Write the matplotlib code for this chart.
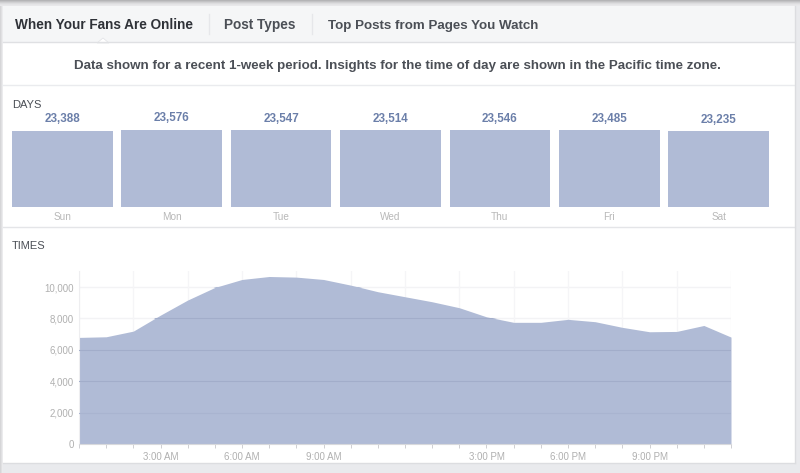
import matplotlib
matplotlib.use("Agg")
import matplotlib.pyplot as plt
from matplotlib.patches import Rectangle, Polygon

plt.rcParams['font.family'] = ['Liberation Sans', 'DejaVu Sans']

days = ["Sun", "Mon", "Tue", "Wed", "Thu", "Fri", "Sat"]
day_values = [23388, 23576, 23547, 23514, 23546, 23485, 23235]
hours = list(range(25))
fans = [6790, 6830, 7190, 8210, 9170, 9970, 10480, 10670, 10630, 10480, 10120, 9700,
        9380, 9060, 8680, 8100, 7750, 7750, 7940, 7790, 7430, 7150, 7170, 7550, 6810]
y_ticks = [0, 2000, 4000, 6000, 8000, 10000]
x_label_hours = [3, 6, 9, 15, 18, 21]
x_labels = ["3:00 AM", "6:00 AM", "9:00 AM", "3:00 PM", "6:00 PM", "9:00 PM"]
tabs = ["When Your Fans Are Online", "Post Types", "Top Posts from Pages You Watch"]
notice = "Data shown for a recent 1-week period. Insights for the time of day are shown in the Pacific time zone."

W, H = 800, 473
BAR = "#b0bbd6"
fig = plt.figure(figsize=(W / 100, H / 100), dpi=100, facecolor="#e9eaed")


def axes_px(x0, y0, x1, y1):
    return fig.add_axes([x0 / W, 1 - y1 / H, (x1 - x0) / W, (y1 - y0) / H])


# page overlay in pixel coordinates
bg = fig.add_axes([0, 0, 1, 1], zorder=0)
bg.set_xlim(0, W)
bg.set_ylim(H, 0)
bg.axis("off")
for i, c in enumerate(["#b4b4b6", "#c2c2c4", "#d0d0d2", "#dcdcde", "#e4e4e6", "#e8e8ea"]):
    bg.add_patch(Rectangle((0, i), W, 1, fc=c, ec="none"))
for i, c in enumerate(["#d6d6d8", "#e0e0e2", "#ebebed"]):
    bg.add_patch(Rectangle((i, 6), 1, H, fc=c, ec="none"))
bg.add_patch(Rectangle((3, 6), 792, 457, fc="white", ec="none"))
bg.add_patch(Rectangle((3, 6), 792, 36, fc="#f5f6f7", ec="none"))
bg.plot([3, 795], [42.5, 42.5], color="#dfe0e3", lw=1)
bg.plot([3, 795], [85, 85], color="#eaebee", lw=1)
bg.plot([3, 795], [226.5, 226.5], color="#e4e5e8", lw=1)
bg.plot([795, 795], [6, 463], color="#dcdde0", lw=1)
bg.plot([3, 795], [463, 463], color="#dcdde0", lw=1)
bg.add_patch(Polygon([[97, 43], [103, 38], [109, 43]], fc="white", ec="#e4e5e8", lw=0.6))
for x in [208.5, 311.5]:
    bg.plot([x, x], [14, 34], color="#e6e7ea", lw=1)

DARK = "#4b4f56"
bg.text(15, 29, tabs[0], fontsize=9.8, fontweight="bold", color="#2f3238", va="baseline")
bg.text(224, 29, tabs[1], fontsize=9.8, fontweight="bold", color=DARK, va="baseline")
bg.text(328, 29, tabs[2], fontsize=9.67, fontweight="bold", color=DARK, va="baseline")
bg.text(397, 69, notice, fontsize=9.68, fontweight="bold", color=DARK, va="baseline", ha="center")
bg.text(12, 108, "DAYS", fontsize=8, color=DARK, va="baseline")
bg.text(12, 249, "TIMES", fontsize=8, color=DARK, va="baseline")

# days bars
ax1 = axes_px(12, 100, 769, 207)
ax1.set_zorder(1)
ax1.patch.set_alpha(0)
ax1.set_xlim(-0.4605, 6.4605)
ax1.set_ylim(0, 23576 * 107 / 77)
ax1.bar(range(7), day_values, width=0.92, color=BAR)
for i, v in enumerate(day_values):
    ax1.annotate(f"{v:,}", (i, v), xytext=(0, 4), textcoords="offset points",
                 ha="center", va="bottom", fontsize=8.4, color="#6b7fa9", fontweight="bold",
                 annotation_clip=False)
    ax1.annotate(days[i], (i, 0), xytext=(0, -7.5), textcoords="offset points",
                 ha="center", va="center", fontsize=7.2, color="#b8b8b8", annotation_clip=False)
ax1.axis("off")

# times area
ax2 = axes_px(79, 271, 731, 444)
ax2.set_zorder(1)
ax2.patch.set_alpha(0)
ax2.set_xlim(0, 24)
ax2.set_ylim(0, 11020)
poly = ax2.fill_between(hours, fans, 0, color=BAR, lw=0, zorder=2)
for s in ax2.spines.values():
    s.set_visible(False)
ax2.spines["left"].set_visible(True)
ax2.spines["left"].set_color("#eeeef0")
ax2.spines["bottom"].set_visible(True)
ax2.spines["bottom"].set_color("#d8d9dc")
ax2.set_yticks(y_ticks)
ax2.set_yticklabels([f"{v:,}" for v in y_ticks], fontsize=7, color="#b0b0b0")
ax2.set_xticks(x_label_hours)
ax2.set_xticklabels(x_labels, fontsize=7, color="#b0b0b0")
ax2.set_xticks(hours, minor=True)
ax2.tick_params(axis="x", which="both", length=3, width=0.7, color="#cfcfd2", pad=2.5)
ax2.tick_params(axis="y", length=0, pad=3.5)
ax2.set_axisbelow(True)
over_colors = {2000: "#a9b4d0", 4000: "#a2adca", 6000: "#a2adca", 8000: "#a2adca", 10000: BAR}
for v in y_ticks[1:]:
    ax2.axhline(v, color="#f3f3f5", lw=1, zorder=1)
    over = ax2.axhline(v, color=over_colors[v], lw=0.8, zorder=3)
    over.set_clip_path(poly.get_paths()[0], transform=ax2.transData)
for h in hours[::2]:
    ax2.axvline(h, color="#f5f5f7", lw=1, zorder=1)

fig.savefig("out.png", dpi=100, facecolor=fig.get_facecolor())
